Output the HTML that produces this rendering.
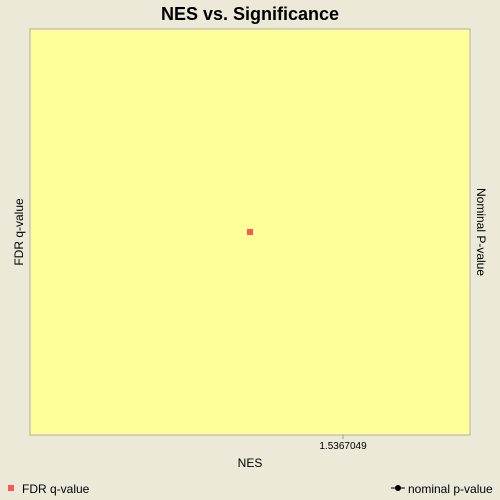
<!DOCTYPE html>
<html><head><meta charset="utf-8"><style>
html,body{margin:0;padding:0;background:#ece9d8;}
svg{display:block;font-family:"Liberation Sans",sans-serif;}
</style></head><body>
<svg id="chart" width="500" height="500">
<rect x="0" y="0" width="500" height="500" fill="#ece9d8"/>
<text x="250" y="20" text-anchor="middle" font-size="18" font-weight="bold">NES vs. Significance</text>
<rect x="30" y="29" width="440" height="406" fill="#ffff99" stroke="#b0b0b0"/>
<g id="marks"></g>
<g id="xticks"></g>
<text x="250" y="467" text-anchor="middle" font-size="12">NES</text>
<text transform="translate(23,232) rotate(-90)" text-anchor="middle" font-size="12">FDR q-value</text>
<text transform="translate(477,232) rotate(90)" text-anchor="middle" font-size="12">Nominal P-value</text>
<g>
<rect x="8" y="485" width="6" height="6" fill="#ff5555"/>
<text x="22" y="493" font-size="12">FDR q-value</text>
</g>
<g>
<line x1="391" y1="488" x2="405" y2="488" stroke="#000"/>
<circle cx="398" cy="488" r="3" fill="#000"/>
<text x="408" y="493" font-size="12">nominal p-value</text>
</g>
</svg>
<script>
const nesValues = [1.41];
const fdrValues = [0.5];
const xTickValues = [1.5367049];
const xTickLabels = ["1.5367049"];
const xDomain = [1.1103, 1.7097];
const yDomain = [0, 1];
const X0=30,X1=470,Y0=435,Y1=29;
function xs(v){return X0+(v-xDomain[0])/(xDomain[1]-xDomain[0])*(X1-X0);}
function ys(v){return Y0-(v-yDomain[0])/(yDomain[1]-yDomain[0])*(Y0-Y1);}
const NS="http://www.w3.org/2000/svg";
const marks=document.getElementById('marks');
nesValues.forEach((v,i)=>{
  const r=document.createElementNS(NS,'rect');
  r.setAttribute('x',xs(v)-3);r.setAttribute('y',ys(fdrValues[i])-3);
  r.setAttribute('width',6);r.setAttribute('height',6);r.setAttribute('fill','#ff5555');
  
  
  marks.appendChild(r);
});
const xt=document.getElementById('xticks');
xTickValues.forEach((v,i)=>{
  const x=xs(v);
  const l=document.createElementNS(NS,'line');
  l.setAttribute('x1',x);l.setAttribute('x2',x);l.setAttribute('y1',435);l.setAttribute('y2',439);
  l.setAttribute('stroke','#999');
  
  
  xt.appendChild(l);
  const t=document.createElementNS(NS,'text');
  t.setAttribute('x',x);t.setAttribute('y',449);t.setAttribute('text-anchor','middle');
  t.setAttribute('font-size','10');t.textContent=xTickLabels[i];
  
  
  xt.appendChild(t);
});
</script>
</body></html>
